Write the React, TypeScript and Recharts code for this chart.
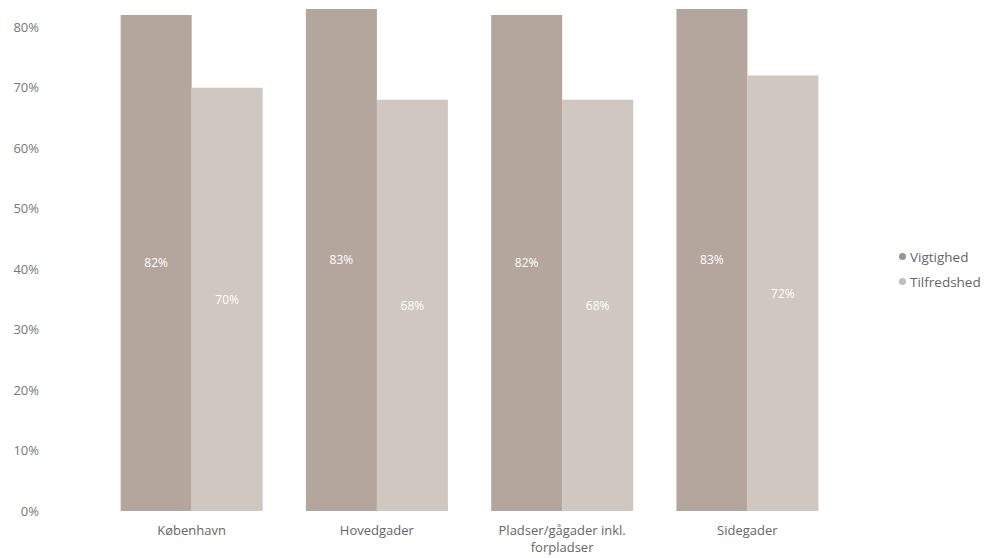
import { BarChart, Bar, XAxis, YAxis, LabelList } from "recharts";

const categories = ["København", "Hovedgader", "Pladser/gågader inkl. forpladser", "Sidegader"];
const vigtighed = [82, 83, 82, 83];
const tilfredshed = [70, 68, 68, 72];
const yTicks = [0, 10, 20, 30, 40, 50, 60, 70, 80];

const data = categories.map((name, i) => ({
  name,
  Vigtighed: vigtighed[i],
  Tilfredshed: tilfredshed[i],
}));

const FONT = "'Open Sans', 'Noto Sans', sans-serif";
const DARK = "#b4a69d";
const LIGHT = "#d0c7c1";

function wrap(label: string, max: number) {
  const words = label.split(" ");
  const lines: string[] = [];
  let cur = "";
  for (const w of words) {
    if (cur && (cur + " " + w).length > max) {
      lines.push(cur);
      cur = w;
    } else {
      cur = cur ? cur + " " + w : w;
    }
  }
  if (cur) lines.push(cur);
  return lines;
}

function XTick({ x, y, payload }: any) {
  const lines = wrap(payload.value, 22);
  return (
    <text x={x} y={y} textAnchor="middle" fill="#666" fontSize={13} fontFamily={FONT}>
      {lines.map((l, i) => (
        <tspan key={i} x={x} dy={i === 0 ? 16 : 17}>
          {l}
        </tspan>
      ))}
    </text>
  );
}

function LegendBox() {
  const items = [
    { label: "Vigtighed", color: "#9c938d" },
    { label: "Tilfredshed", color: "#c4bcb7" },
  ];
  return (
    <div
      style={{
        position: "absolute",
        left: 899,
        top: 244,
        fontFamily: FONT,
        fontSize: 13.5,
        color: "#666",
      }}
    >
      {items.map((it) => (
        <div key={it.label} style={{ display: "flex", alignItems: "center", height: 25 }}>
          <span
            style={{
              width: 7,
              height: 7,
              borderRadius: "50%",
              background: it.color,
              display: "inline-block",
              marginRight: 4,
            }}
          />
          {it.label}
        </div>
      ))}
    </div>
  );
}

export default function App() {
  return (
    <div style={{ position: "absolute", left: 0, top: 0, width: 985, height: 558, background: "#fff" }}>
      <BarChart
        width={985}
        height={558}
        data={data}
        margin={{ top: 3, right: 145, bottom: 0, left: 0 }}
        barCategoryGap="11.7%"
        barGap={0}
      >
        <XAxis
          dataKey="name"
          axisLine={false}
          tickLine={false}
          interval={0}
          height={47}
          tick={<XTick />}
        />
        <YAxis
          width={99}
          domain={[0, 84]}
          ticks={yTicks}
          allowDataOverflow
          axisLine={false}
          tickLine={false}
          tickSize={0}
          tickMargin={60}
          tickFormatter={(v: number) => `${v}%`}
          tick={{ fill: "#777", fontSize: 13, fontFamily: FONT }}
        />
        <Bar dataKey="Vigtighed" fill={DARK} isAnimationActive={false}>
          <LabelList
            dataKey="Vigtighed"
            position="center"
            formatter={(v: any) => `${v}%`}
            fill="#fff"
            fontSize={12}
            fontFamily={FONT}
          />
        </Bar>
        <Bar dataKey="Tilfredshed" fill={LIGHT} isAnimationActive={false}>
          <LabelList
            dataKey="Tilfredshed"
            position="center"
            formatter={(v: any) => `${v}%`}
            fill="#fff"
            fontSize={12}
            fontFamily={FONT}
          />
        </Bar>
      </BarChart>
      <LegendBox />
    </div>
  );
}
